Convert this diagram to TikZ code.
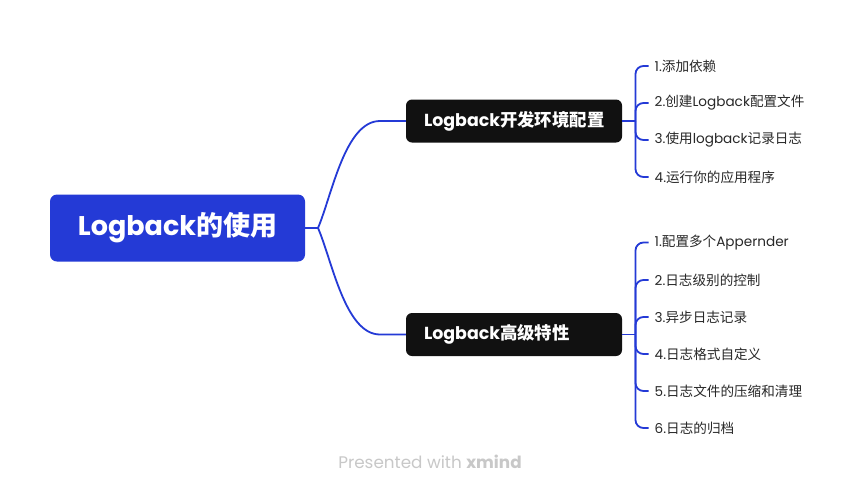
\documentclass[tikz,border=0pt]{standalone}
\usepackage{fontspec}
\setmainfont{Poppins}
\newfontfamily\cjk{Noto Sans CJK SC}
\newcommand\zh[1]{{\cjk #1}}
\definecolor{xblue}{RGB}{36,58,214}
\definecolor{xdark}{RGB}{17,17,17}
\definecolor{xgray}{RGB}{200,200,200}
\definecolor{xtext}{RGB}{40,40,40}
\begin{document}
\begin{tikzpicture}[x=1pt,y=-1pt,
  rootbox/.style={fill=xblue,rounded corners=7pt,minimum width=255pt,minimum height=67pt,inner sep=0pt,text=white,font=\fontsize{27}{32}\selectfont\bfseries},
  branchbox/.style={fill=xdark,rounded corners=6pt,minimum width=216pt,minimum height=43pt,inner xsep=18pt,inner ysep=0pt,text=white,font=\fontsize{17.4}{21}\selectfont\bfseries},
  leaf/.style={anchor=west,inner sep=0pt,text=xtext,font=\fontsize{13.6}{16}\selectfont},
  conn/.style={draw=xblue,line width=1.8pt},
  bracket/.style={conn,rounded corners=8pt}]
\useasboundingbox (0,0) rectangle (861,493);
\fill[white] (0,0) rectangle (861,493);

\node[rootbox] (root) at (177.5,228) {Logback\zh{的使用}};
\node[branchbox] (b1) at (514,121) {\makebox[180pt][l]{Logback\zh{开发环境配置}}};
\node[branchbox] (b2) at (514,334.5) {\makebox[180pt][l]{Logback\zh{高级特性}}};

\coordinate (j0) at (318,228);
\draw[conn] (root.east) -- (j0);
\draw[conn] (j0) .. controls (332,195) and (345,121) .. (380,121) -- (b1.west);
\draw[conn] (j0) .. controls (332,260) and (345,334.5) .. (380,334.5) -- (b2.west);

% branch 1 leaves
\node[leaf] (c11) at (654.5,66) {1.\zh{添加依赖}};
\node[leaf] (c12) at (654.5,103) {2.\zh{创建}Logback\zh{配置文件}};
\node[leaf] (c13) at (654.5,140) {3.\zh{使用}logback\zh{记录日志}};
\node[leaf] (c14) at (654.5,177) {4.\zh{运行你的应用程序}};
\coordinate (j1) at (635.5,121);
\draw[conn] (b1.east) -- (j1);
\foreach \c in {c11,c12,c13,c14} \draw[bracket] (j1) |- ([xshift=-6pt]\c.west);

% branch 2 leaves
\node[leaf] (c21) at (654.5,242.5) {1.\zh{配置多个}Appernder};
\node[leaf] (c22) at (654.5,280) {2.\zh{日志级别的控制}};
\node[leaf] (c23) at (654.5,317) {3.\zh{异步日志记录}};
\node[leaf] (c24) at (654.5,354) {4.\zh{日志格式自定义}};
\node[leaf] (c25) at (654.5,391) {5.\zh{日志文件的压缩和清理}};
\node[leaf] (c26) at (654.5,428) {6.\zh{日志的归档}};
\coordinate (j2) at (635.5,334.5);
\draw[conn] (b2.east) -- (j2);
\foreach \c in {c21,c22,c23,c24,c25,c26} \draw[bracket] (j2) |- ([xshift=-6pt]\c.west);

\node[text=xgray,font=\fontsize{16.8}{20}\selectfont] (foot) at (430,462) {Presented with \textbf{xmind}};
\end{tikzpicture}
\end{document}
